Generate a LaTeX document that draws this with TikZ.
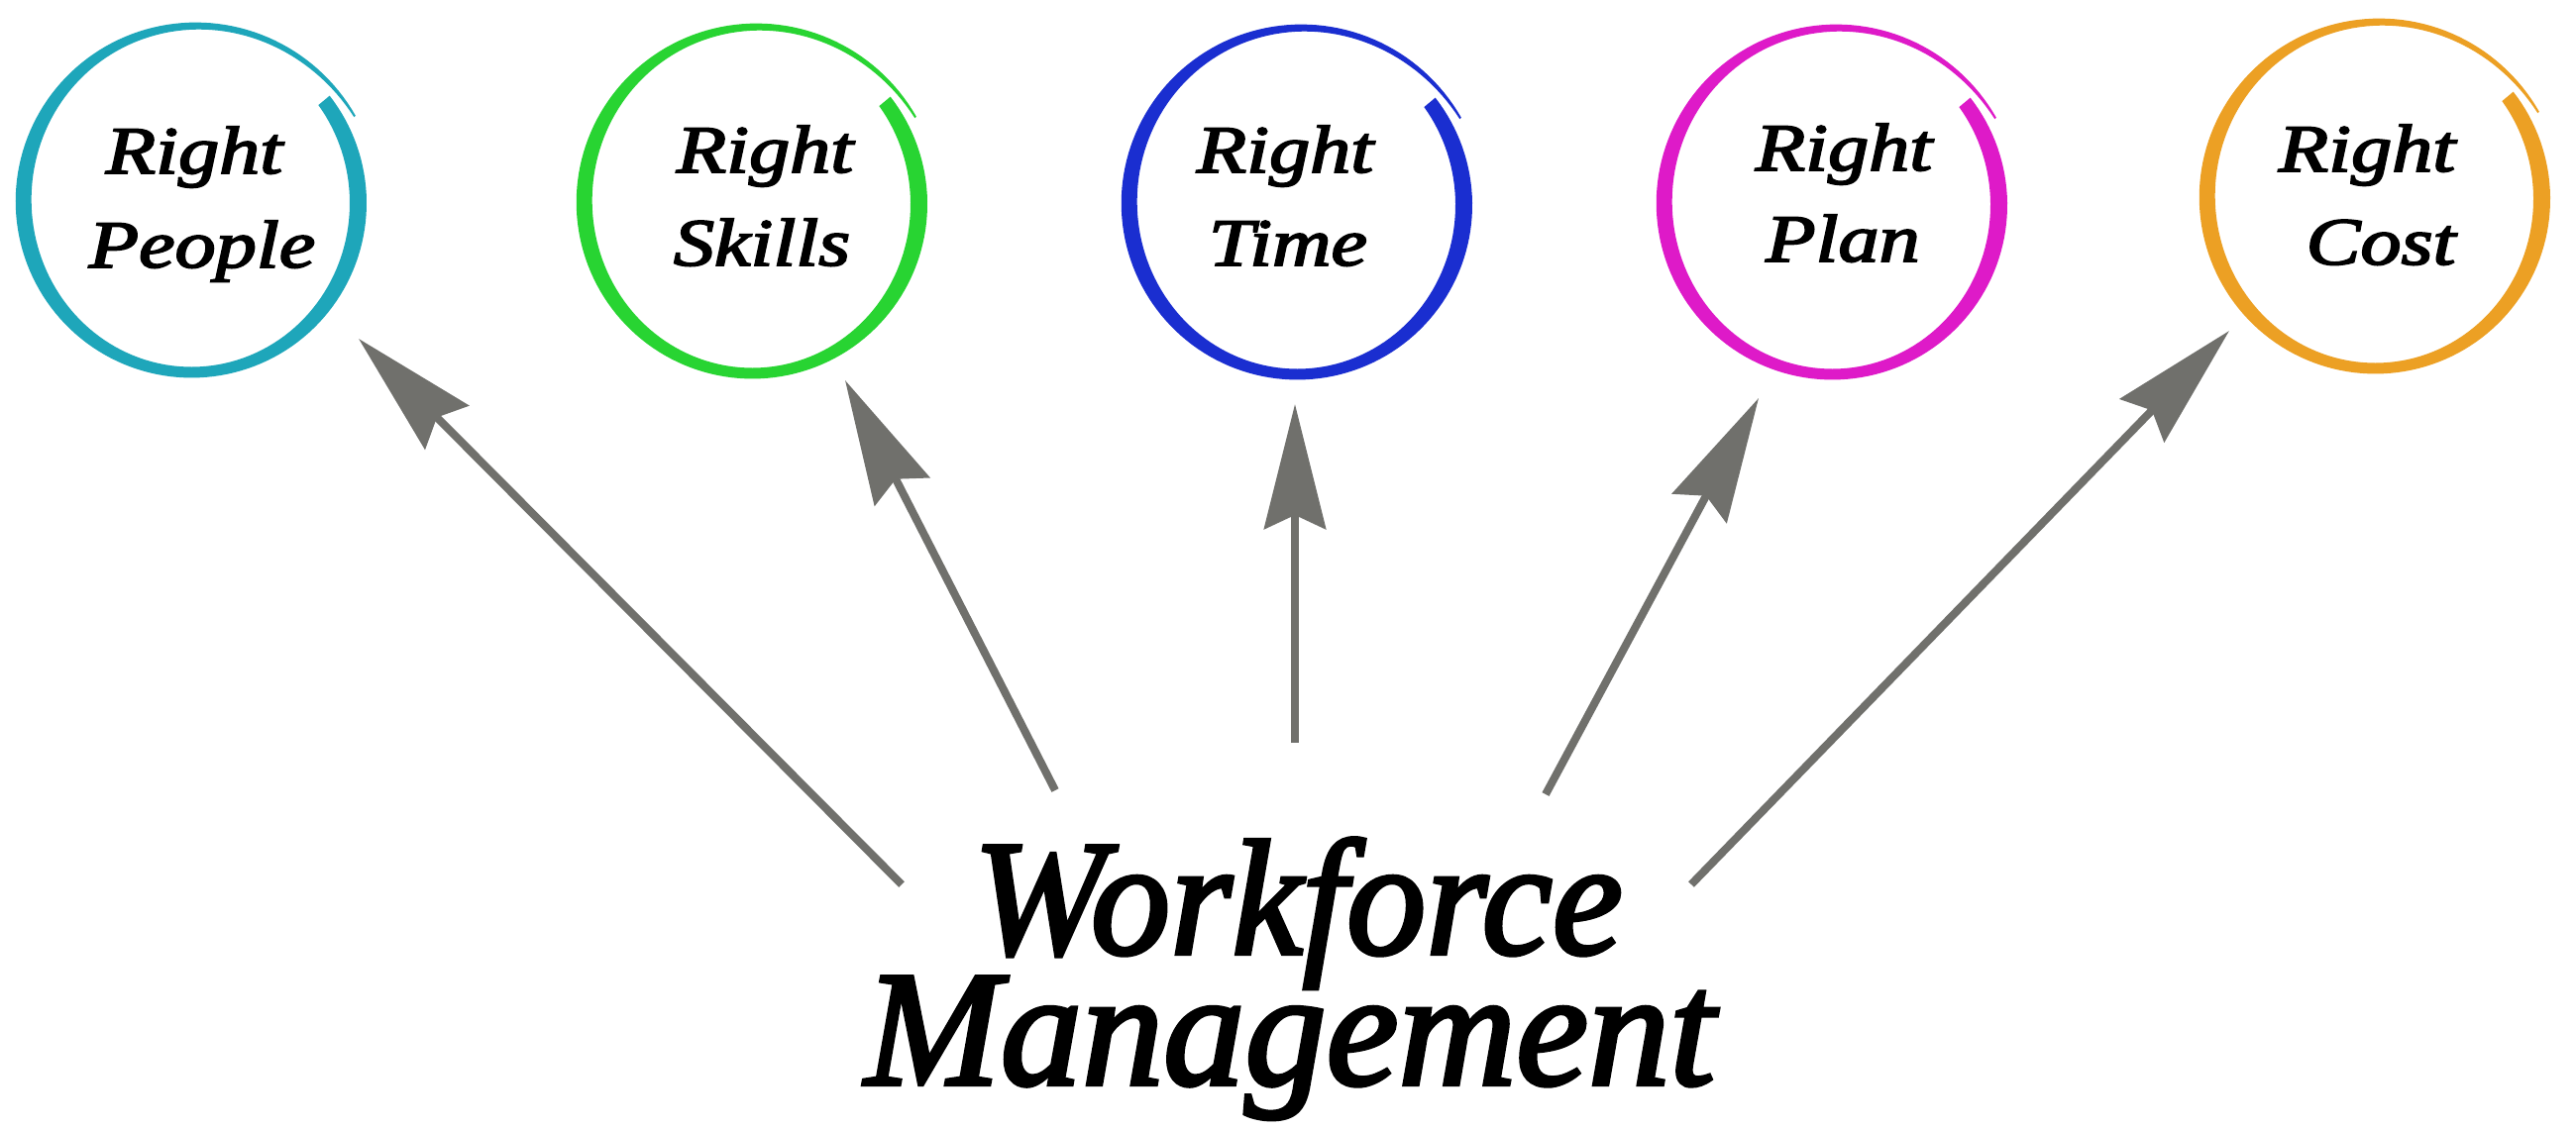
\documentclass[tikz,border=0pt]{standalone}
\usepackage{fontspec}
\setmainfont{Liberation Serif}
\newfontfamily\tfont{Liberation Serif}[ItalicFeatures={FakeBold=2.5}]
\usetikzlibrary{arrows.meta}
\definecolor{arrowgray}{RGB}{112,112,108}
\definecolor{cteal}{RGB}{30,166,186}
\definecolor{cgreen}{RGB}{40,212,50}
\definecolor{cblue}{RGB}{26,46,208}
\definecolor{cmagenta}{RGB}{222,26,200}
\definecolor{corange}{RGB}{236,160,36}
\tikzset{declare function={
  bw(\s)=(14+3*cos(2*(38-370*\s)))*(1-0.87*\s^5);
  bro(\s)=176+11*\s^3;
  bth(\s)=38-370*\s;}}
\newcommand\brushring[3]{%
  \fill[#3] plot[domain=0:1,samples=160,variable=\s]
    ({#1+bro(\s)*cos(bth(\s))},{#2-bro(\s)*sin(bth(\s))})
   -- plot[domain=1:0,samples=160,variable=\s]
    ({#1+(bro(\s)-bw(\s))*cos(bth(\s))},{#2-(bro(\s)-bw(\s))*sin(bth(\s))}) -- cycle;
}
\tikzset{
  ring/.style={circle, minimum size=352pt, inner sep=0pt},
  lbl/.style={anchor=base, inner sep=0pt, xscale=1.21,
    font=\tfont\fontsize{68}{82}\selectfont\itshape},
  bigtxt/.style={anchor=base, inner sep=0pt,
    font=\tfont\fontsize{166}{200}\selectfont\itshape},
  arr/.style={draw=arrowgray, line width=8pt,
    -{Stealth[length=126pt,width=62pt,inset=14pt]}}
}
\begin{document}
\begin{tikzpicture}[x=1pt,y=-1pt]
\useasboundingbox (0,0) rectangle (2600,1141);
\fill[white] (0,0) rectangle (2600,1141);

% circles
\node[ring] (c1) at (194,205) {};
\node[ring] (c2) at (760,206) {};
\node[ring] (c3) at (1310,207) {};
\node[ring] (c4) at (1850,207) {};
\node[ring] (c5) at (2398,201) {};
\brushring{194}{205}{cteal}
\brushring{760}{206}{cgreen}
\brushring{1310}{207}{cblue}
\brushring{1850}{207}{cmagenta}
\brushring{2398}{201}{corange}

% labels
\node[lbl] (c1a) at (196,175) {Right};
\node[lbl] (c1b) at (204,270) {People};
\node[lbl] (c2a) at (772,174) {Right};
\node[lbl] (c2b) at (769,268) {Skills};
\node[lbl] (c3a) at (1297,174) {Right};
\node[lbl] (c3b) at (1300,268) {Time};
\node[lbl] (c4a) at (1861,172) {Right};
\node[lbl] (c4b) at (1860,264) {Plan};
\node[lbl] (c5a) at (2389,173) {Right};
\node[lbl] (c5b) at (2403,267) {Cost};

% central text
\node[bigtxt] (wm1) at (1310,963) {\scalebox{0.965}[1]{Workforce}};
\node[bigtxt] (wm2) at (1302,1095) {\scalebox{0.99}[1]{Management}};

% arrow ends
\coordinate (s1) at (910,893);   \coordinate (e1) at (362,342);
\coordinate (s2) at (1065,798);  \coordinate (e2) at (853,384);
\coordinate (s3) at (1307,750);  \coordinate (e3) at (1307,408);
\coordinate (s4) at (1560,802);  \coordinate (e4) at (1775,402);
\coordinate (s5) at (1707,893);  \coordinate (e5) at (2250,334);

\draw[arr] (s1) -- (e1);
\draw[arr] (s2) -- (e2);
\draw[arr] (s3) -- (e3);
\draw[arr] (s4) -- (e4);
\draw[arr] (s5) -- (e5);
\end{tikzpicture}
\end{document}
